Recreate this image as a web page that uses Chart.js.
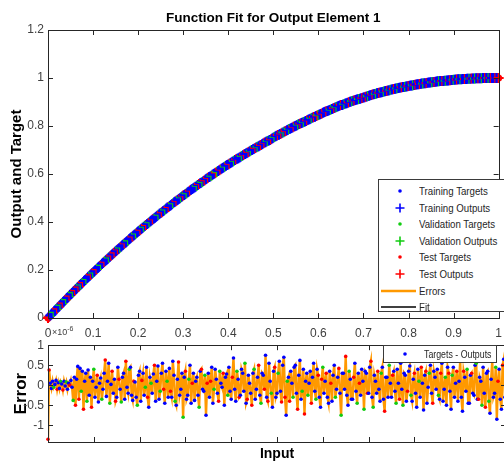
<!DOCTYPE html>
<html>
<head>
<meta charset="utf-8">
<script src="https://cdn.jsdelivr.net/npm/chart.js@4.4.1/dist/chart.umd.min.js"></script>
<style>
  html, body { margin: 0; padding: 0; background: #fff; }
  #wrap { position: relative; width: 504px; height: 464px; overflow: hidden;
          font-family: "Liberation Sans", Arial, sans-serif; color: #262626; }
  canvas { position: absolute; left: 0; }
  #fitChart { top: 0; }
  #errChart { top: 334px; }
  .legend { position: absolute; background: #fff; border: 1px solid #3a3a3a; font-size: 11px; }
  .legend .row { position: absolute; left: 0; height: 16px; line-height: 16px; white-space: nowrap; }
  .legend .row svg { position: absolute; top: 0; left: 0; }
  .legend .row span { position: absolute; top: 0; transform: scaleX(0.88); transform-origin: 0 50%; }
  #errLegend .row span { transform: scaleX(0.8); }
  #expo { position: absolute; left: 52px; top: 325px; font-size: 9px; color: #404040; }
  #expo sup { font-size: 7px; }
</style>
</head>
<body>
<div id="wrap">
  <canvas id="fitChart" width="510" height="346"></canvas>
  <canvas id="errChart" width="510" height="130"></canvas>
  <div id="expo">&times;10<sup>-6</sup></div>
  <div id="fitLegend" class="legend" style="left:378px; top:179px; width:140px; height:131px;"></div>
  <div id="errLegend" class="legend" style="left:383px; top:345px; width:112px; height:16px;"></div>
</div>
<script>
// sample inputs (same for both panels), one row per 0.05
const inputs = [
  0, 0.0025, 0.005, 0.0075, 0.01, 0.0125, 0.015, 0.0175, 0.02, 0.0225, 0.025, 0.0275, 0.03, 0.0325, 0.035, 0.0375, 0.04, 0.0425, 0.045, 0.0475,
  0.05, 0.0525, 0.055, 0.0575, 0.06, 0.0625, 0.065, 0.0675, 0.07, 0.0725, 0.075, 0.0775, 0.08, 0.0825, 0.085, 0.0875, 0.09, 0.0925, 0.095, 0.0975,
  0.1, 0.1025, 0.105, 0.1075, 0.11, 0.1125, 0.115, 0.1175, 0.12, 0.1225, 0.125, 0.1275, 0.13, 0.1325, 0.135, 0.1375, 0.14, 0.1425, 0.145, 0.1475,
  0.15, 0.1525, 0.155, 0.1575, 0.16, 0.1625, 0.165, 0.1675, 0.17, 0.1725, 0.175, 0.1775, 0.18, 0.1825, 0.185, 0.1875, 0.19, 0.1925, 0.195, 0.1975,
  0.2, 0.2025, 0.205, 0.2075, 0.21, 0.2125, 0.215, 0.2175, 0.22, 0.2225, 0.225, 0.2275, 0.23, 0.2325, 0.235, 0.2375, 0.24, 0.2425, 0.245, 0.2475,
  0.25, 0.2525, 0.255, 0.2575, 0.26, 0.2625, 0.265, 0.2675, 0.27, 0.2725, 0.275, 0.2775, 0.28, 0.2825, 0.285, 0.2875, 0.29, 0.2925, 0.295, 0.2975,
  0.3, 0.3025, 0.305, 0.3075, 0.31, 0.3125, 0.315, 0.3175, 0.32, 0.3225, 0.325, 0.3275, 0.33, 0.3325, 0.335, 0.3375, 0.34, 0.3425, 0.345, 0.3475,
  0.35, 0.3525, 0.355, 0.3575, 0.36, 0.3625, 0.365, 0.3675, 0.37, 0.3725, 0.375, 0.3775, 0.38, 0.3825, 0.385, 0.3875, 0.39, 0.3925, 0.395, 0.3975,
  0.4, 0.4025, 0.405, 0.4075, 0.41, 0.4125, 0.415, 0.4175, 0.42, 0.4225, 0.425, 0.4275, 0.43, 0.4325, 0.435, 0.4375, 0.44, 0.4425, 0.445, 0.4475,
  0.45, 0.4525, 0.455, 0.4575, 0.46, 0.4625, 0.465, 0.4675, 0.47, 0.4725, 0.475, 0.4775, 0.48, 0.4825, 0.485, 0.4875, 0.49, 0.4925, 0.495, 0.4975,
  0.5, 0.5025, 0.505, 0.5075, 0.51, 0.5125, 0.515, 0.5175, 0.52, 0.5225, 0.525, 0.5275, 0.53, 0.5325, 0.535, 0.5375, 0.54, 0.5425, 0.545, 0.5475,
  0.55, 0.5525, 0.555, 0.5575, 0.56, 0.5625, 0.565, 0.5675, 0.57, 0.5725, 0.575, 0.5775, 0.58, 0.5825, 0.585, 0.5875, 0.59, 0.5925, 0.595, 0.5975,
  0.6, 0.6025, 0.605, 0.6075, 0.61, 0.6125, 0.615, 0.6175, 0.62, 0.6225, 0.625, 0.6275, 0.63, 0.6325, 0.635, 0.6375, 0.64, 0.6425, 0.645, 0.6475,
  0.65, 0.6525, 0.655, 0.6575, 0.66, 0.6625, 0.665, 0.6675, 0.67, 0.6725, 0.675, 0.6775, 0.68, 0.6825, 0.685, 0.6875, 0.69, 0.6925, 0.695, 0.6975,
  0.7, 0.7025, 0.705, 0.7075, 0.71, 0.7125, 0.715, 0.7175, 0.72, 0.7225, 0.725, 0.7275, 0.73, 0.7325, 0.735, 0.7375, 0.74, 0.7425, 0.745, 0.7475,
  0.75, 0.7525, 0.755, 0.7575, 0.76, 0.7625, 0.765, 0.7675, 0.77, 0.7725, 0.775, 0.7775, 0.78, 0.7825, 0.785, 0.7875, 0.79, 0.7925, 0.795, 0.7975,
  0.8, 0.8025, 0.805, 0.8075, 0.81, 0.8125, 0.815, 0.8175, 0.82, 0.8225, 0.825, 0.8275, 0.83, 0.8325, 0.835, 0.8375, 0.84, 0.8425, 0.845, 0.8475,
  0.85, 0.8525, 0.855, 0.8575, 0.86, 0.8625, 0.865, 0.8675, 0.87, 0.8725, 0.875, 0.8775, 0.88, 0.8825, 0.885, 0.8875, 0.89, 0.8925, 0.895, 0.8975,
  0.9, 0.9025, 0.905, 0.9075, 0.91, 0.9125, 0.915, 0.9175, 0.92, 0.9225, 0.925, 0.9275, 0.93, 0.9325, 0.935, 0.9375, 0.94, 0.9425, 0.945, 0.9475,
  0.95, 0.9525, 0.955, 0.9575, 0.96, 0.9625, 0.965, 0.9675, 0.97, 0.9725, 0.975, 0.9775, 0.98, 0.9825, 0.985, 0.9875, 0.99, 0.9925, 0.995, 0.9975,
  1
];

// targets
const targets = [
  0, 0.005, 0.010, 0.015, 0.020, 0.025, 0.030, 0.035, 0.040, 0.045, 0.049, 0.054, 0.059, 0.064, 0.069, 0.074, 0.078, 0.083, 0.088, 0.093,
  0.098, 0.102, 0.107, 0.112, 0.116, 0.121, 0.126, 0.130, 0.135, 0.140, 0.144, 0.149, 0.154, 0.158, 0.163, 0.167, 0.172, 0.176, 0.181, 0.186,
  0.190, 0.194, 0.199, 0.203, 0.208, 0.212, 0.217, 0.221, 0.226, 0.230, 0.234, 0.239, 0.243, 0.247, 0.252, 0.256, 0.260, 0.265, 0.269, 0.273,
  0.278, 0.282, 0.286, 0.290, 0.294, 0.298, 0.303, 0.307, 0.311, 0.315, 0.319, 0.323, 0.328, 0.332, 0.336, 0.340, 0.344, 0.348, 0.352, 0.356,
  0.360, 0.364, 0.368, 0.372, 0.376, 0.380, 0.384, 0.388, 0.392, 0.395, 0.399, 0.403, 0.407, 0.411, 0.415, 0.418, 0.422, 0.426, 0.430, 0.434,
  0.438, 0.441, 0.445, 0.448, 0.452, 0.456, 0.460, 0.463, 0.467, 0.470, 0.474, 0.478, 0.482, 0.485, 0.489, 0.492, 0.496, 0.499, 0.503, 0.506,
  0.510, 0.513, 0.517, 0.520, 0.524, 0.527, 0.531, 0.534, 0.538, 0.541, 0.544, 0.547, 0.551, 0.554, 0.558, 0.561, 0.564, 0.567, 0.571, 0.574,
  0.578, 0.581, 0.584, 0.587, 0.590, 0.593, 0.597, 0.600, 0.603, 0.606, 0.609, 0.612, 0.616, 0.619, 0.622, 0.625, 0.628, 0.631, 0.634, 0.637,
  0.640, 0.643, 0.646, 0.649, 0.652, 0.655, 0.658, 0.661, 0.664, 0.666, 0.669, 0.672, 0.675, 0.678, 0.681, 0.683, 0.686, 0.689, 0.692, 0.695,
  0.698, 0.700, 0.703, 0.705, 0.708, 0.711, 0.714, 0.716, 0.719, 0.721, 0.724, 0.727, 0.730, 0.732, 0.735, 0.737, 0.740, 0.742, 0.745, 0.748,
  0.751, 0.754, 0.757, 0.759, 0.762, 0.764, 0.767, 0.769, 0.772, 0.774, 0.777, 0.779, 0.782, 0.784, 0.787, 0.789, 0.792, 0.794, 0.797, 0.799,
  0.801, 0.803, 0.806, 0.808, 0.810, 0.812, 0.815, 0.817, 0.819, 0.821, 0.824, 0.826, 0.828, 0.830, 0.833, 0.835, 0.837, 0.839, 0.842, 0.844,
  0.846, 0.848, 0.850, 0.852, 0.855, 0.857, 0.859, 0.861, 0.863, 0.865, 0.867, 0.869, 0.871, 0.873, 0.875, 0.877, 0.879, 0.881, 0.883, 0.885,
  0.887, 0.888, 0.890, 0.892, 0.894, 0.895, 0.897, 0.899, 0.901, 0.902, 0.904, 0.905, 0.907, 0.908, 0.910, 0.911, 0.913, 0.914, 0.916, 0.917,
  0.919, 0.920, 0.922, 0.923, 0.925, 0.926, 0.928, 0.929, 0.931, 0.932, 0.933, 0.934, 0.936, 0.937, 0.939, 0.940, 0.941, 0.942, 0.944, 0.945,
  0.946, 0.947, 0.948, 0.949, 0.951, 0.952, 0.953, 0.954, 0.955, 0.956, 0.957, 0.958, 0.959, 0.960, 0.961, 0.962, 0.963, 0.964, 0.965, 0.966,
  0.967, 0.968, 0.969, 0.969, 0.970, 0.971, 0.972, 0.973, 0.974, 0.974, 0.975, 0.976, 0.977, 0.977, 0.978, 0.978, 0.979, 0.980, 0.981, 0.981,
  0.982, 0.982, 0.983, 0.983, 0.984, 0.985, 0.986, 0.986, 0.987, 0.987, 0.988, 0.988, 0.989, 0.989, 0.990, 0.990, 0.991, 0.991, 0.992, 0.992,
  0.993, 0.993, 0.994, 0.994, 0.995, 0.995, 0.995, 0.995, 0.996, 0.996, 0.996, 0.996, 0.997, 0.997, 0.997, 0.997, 0.998, 0.998, 0.998, 0.998,
  0.999, 0.999, 0.999, 0.999, 0.999, 0.999, 1.000, 1.000, 1.000, 1.000, 1.000, 1.000, 1.000, 1.000, 1.000, 1.000, 1.000, 1.000, 1.000, 1.000,
  1.000
];

// targets - outputs, in units of 1e-6 (lower panel)
const errors = [
  -1.35, 0.38, 0.05, -0.08, 0.1, -0.05, 0.02, 0.12, -0.1, 0.06, -0.08, 0.09, 0.03, -0.12, 0.1, -0.02, 0.08, -0.1, 0.05, 0.0,
  0.12, -0.05, -0.38, 0.2, -0.5, 0.15, 0.47, -0.35, 0.42, -0.15, 0.35, -0.6, 0.1, 0.3, -0.4, 0.38, -0.25, 0.2, -0.55, 0.1,
  0.4, -0.3, -0.05, 0.25, -0.42, 0.05, 0.18, -0.35, -0.1, 0.3, 0.63, -0.28, 0.1, 0.55, -0.45, 0.02, 0.35, -0.2, 0.15, -0.4,
  -0.3, 0.45, 0.15, -0.1, -0.42, 0.2, 0.3, -0.35, 0.6, -0.05, -0.2, 0.4, 0.45, -0.25, -0.38, 0.1, 0.08, -0.3, -0.5, 0.25,
  0.35, -0.4, 0.12, 0.3, -0.25, -0.05, 0.45, -0.3, -0.55, 0.2, 0.05, -0.2, 0.28, 0.5, -0.4, 0.1, 0.48, -0.35, -0.15, 0.3,
  0.55, -0.1, -0.45, 0.35, 0.1, -0.3, 0.42, -0.15, -0.3, 0.6, 0.25, -0.4, -0.5, 0.15, 0.58, -0.25, -0.1, 0.3, -0.8, 0.2,
  0.35, -0.35, -0.25, 0.15, 0.5, -0.45, 0.05, 0.3, -0.38, 0.1, 0.2, -0.25, -0.55, 0.35, 0.4, -0.1, -0.15, 0.25, -0.75, 0.05,
  0.3, -0.3, 0.1, 0.45, -0.45, -0.1, 0.4, 0.15, -0.2, -0.4, 0.35, 0.05, -0.05, 0.3, -0.5, 0.2, 0.28, -0.25, 0.45, -0.15,
  -0.35, 0.2, 0.68, -0.1, -0.4, 0.35, 0.15, -0.3, -0.25, 0.4, 0.3, -0.15, 0.55, -0.45, -0.35, 0.25, 0.05, -0.2, -0.5, 0.3,
  0.4, -0.35, -0.1, 0.2, 0.5, -0.25, -0.45, 0.3, 0.25, -0.1, 0.75, -0.3, -0.4, 0.55, 0.1, -0.2, -0.55, 0.35, 0.45, -0.3,
  -0.2, 0.3, 0.6, -0.15, -0.42, 0.5, 0.7, -0.3, -0.75, 0.1, 0.2, -0.4, 0.35, 0.05, -0.3, 0.45, 0.5, -0.2, -0.6, 0.25,
  0.62, -0.35, -0.15, 0.4, -0.72, 0.1, 0.3, -0.25, 0.05, 0.35, -0.45, 0.2, 0.55, -0.15, -0.35, 0.4, 0.25, -0.3, -0.55, 0.15,
  0.45, -0.2, 0.1, 0.3, -0.3, -0.45, 0.35, 0.05, -0.4, 0.25, 0.5, -0.3, -0.1, 0.2, 0.42, -0.2, -0.75, 0.3, 0.3, -0.1,
  0.72, -0.25, -0.5, 0.35, 0.15, -0.35, -0.35, 0.2, 0.55, -0.15, -0.45, 0.3, 0.05, -0.25, 0.4, 0.1, -0.6, 0.35, 0.3, -0.2,
  -0.2, 0.45, 0.6, -0.3, -0.55, 0.25, 0.1, -0.2, 0.35, -0.1, -0.4, 0.3, 0.45, -0.35, -0.65, 0.2, 0.2, -0.3, 0.5, 0.05,
  -0.3, 0.25, 0.35, -0.15, -0.45, 0.4, 0.05, -0.35, 0.55, -0.1, -0.5, 0.3, 0.25, -0.4, -0.15, 0.35, 0.48, -0.25, -0.4, 0.15,
  0.3, -0.2, -0.55, 0.4, 0.1, -0.3, 0.45, 0.05, -0.62, 0.25, 0.35, -0.45, -0.05, 0.3, 0.5, -0.2, -0.45, 0.35, 0.2, -0.1,
  0.4, -0.25, -0.35, 0.3, 0.55, -0.4, -0.1, 0.2, -0.5, 0.45, 0.3, -0.15, -0.6, 0.25, 0.45, -0.3, 0.05, 0.35, -0.4, 0.1,
  0.6, -0.3, -0.65, 0.35, 0.2, -0.15, 0.4, -0.45, -0.45, 0.25, 0.3, -0.2, -0.25, 0.5, 0.55, -0.35, -0.35, 0.2, 0.1, -0.5,
  0.45, -0.2, -0.55, 0.3, 0.35, -0.4, -0.7, 0.15, 0.6, -0.3, -0.2, 0.45, -0.85, 0.1, 0.4, -0.35, -0.6, 0.5, 0.65, -0.3,
  -0.45
];

// which subset each sample belongs to: b = training, g = validation, r = test
const subsets = [
  'rrbbbgbbrb', 'bgbrbbgbbr', 'bbgbrbbrbg', 'brbbgbbbrb', 'gbbrbbbgbb', 'rbbbgbrbbr',
  'bbrbgbbbrb', 'bgbbbrbbgb', 'bbrbbgbrbb', 'gbbrbbbbgb', 'brbbgbbrbb', 'bgbbrbbbgb',
  'rbbgbbrbbb', 'bbgbrbbgbr', 'bbrbbgbbbr', 'gbbrbbbgbb', 'brbbbgbrbb', 'bbgbrbbbrb',
  'gbbbrbgbbr', 'bbrbbgbbrb', 'bgbbrbbrbg', 'brbbgbbbrb', 'bbgbrbbgbb', 'rbbbgbrbbr',
  'gbbrbbbrbb', 'bgbbrbgbbb', 'rbbgbbbrbb', 'gbrbbbgbbr', 'bbrbgbbbrb', 'bgbbrbbbgb',
  'brbbgbbrbb', 'gbbbrbbgbb', 'rbbbgbrbbb', 'rbbgbbrbbb', 'bgbrbbbgbb', 'rbbgbbbrbb',
  'gbbrbbgbbb', 'rbbbgbrbbg', 'bbrbbgbbrb', 'bgbrbbbrbb', 'r'
].join('').split('');

const subsetColorOf = { b: '#0000ff', g: '#11cc11', r: '#ff0000' };
const errorColor = '#ff9900';

const fitLegendLabels = ['Training Targets', 'Training Outputs', 'Validation Targets',
  'Validation Outputs', 'Test Targets', 'Test Outputs', 'Errors', 'Fit'];
const errLegendLabel = 'Targets - Outputs';

Chart.defaults.font.family = '"Liberation Sans", Arial, sans-serif';
Chart.defaults.color = '#404040';
Chart.defaults.animation = false;

// tick labels without trailing zeros (1, 0.5, -1 ...)
const plainTick = v => String(Number(Number(v).toFixed(2)));

// MATLAB-like box with inward ticks
const axesBox = {
  id: 'axesBox',
  afterDatasetsDraw(chart) {
    const { ctx, chartArea: a, scales } = chart;
    ctx.save();
    ctx.strokeStyle = '#262626';
    ctx.lineWidth = 1;
    ctx.beginPath();
    scales.x.ticks.forEach(t => {
      const px = Math.round(scales.x.getPixelForValue(t.value)) + 0.5;
      ctx.moveTo(px, a.bottom); ctx.lineTo(px, a.bottom - 5);
      ctx.moveTo(px, a.top); ctx.lineTo(px, a.top + 5);
    });
    scales.y.ticks.forEach(t => {
      const py = Math.round(scales.y.getPixelForValue(t.value)) + 0.5;
      ctx.moveTo(a.left, py); ctx.lineTo(a.left + 5, py);
      ctx.moveTo(a.right, py); ctx.lineTo(a.right - 5, py);
    });
    ctx.stroke();
    ctx.strokeRect(Math.round(a.left) + 0.5, Math.round(a.top) + 0.5,
      Math.round(a.right - a.left), Math.round(a.bottom - a.top));
    ctx.restore();
  }
};

// colours per sample, so points are painted in input order
const pointColors = subsets.map(c => subsetColorOf[c]);

// upper panel: targets (dots), outputs (plus), fit line underneath
const fitDatasets = [
  {
    label: 'Outputs',
    data: inputs.map((x, i) => ({ x: x, y: targets[i] - errors[i] * 1e-6 })),
    pointStyle: 'cross', pointRadius: 5, pointBorderWidth: 2,
    pointBorderColor: pointColors, pointBackgroundColor: pointColors,
    showLine: false, clip: false, order: 1
  },
  {
    label: 'Targets',
    data: inputs.map((x, i) => ({ x: x, y: targets[i] })),
    pointStyle: 'circle', pointRadius: 3.5, pointBorderWidth: 0,
    pointBackgroundColor: pointColors, pointBorderColor: pointColors,
    showLine: false, clip: false, order: 2
  },
  {
    label: 'Fit',
    data: inputs.map((x, i) => ({ x: x, y: targets[i] - errors[i] * 1e-6 })),
    borderColor: '#000000', borderWidth: 1.5, pointRadius: 0,
    showLine: true, order: 3
  }
];

new Chart(document.getElementById('fitChart'), {
  type: 'scatter',
  data: { datasets: fitDatasets },
  options: {
    responsive: false,
    layout: { padding: { left: 0, right: 4, top: 0, bottom: 0 } },
    plugins: {
      legend: { display: false },
      tooltip: { enabled: false },
      title: {
        display: true, fullSize: false,
        text: 'Function Fit for Output Element 1',
        color: '#000000',
        font: { size: 13.5, weight: 'bold' },
        padding: { top: 10, bottom: 3.8 }
      }
    },
    scales: {
      x: {
        type: 'linear', min: 0, max: 1,
        ticks: { stepSize: 0.1, padding: 8, font: { size: 12 }, maxRotation: 0, callback: plainTick },
        grid: { display: false, drawTicks: false },
        border: { display: false },
        afterFit: s => { s.height = 28; }
      },
      y: {
        min: 0, max: 1.2,
        ticks: { stepSize: 0.2, padding: 4, font: { size: 12 }, callback: plainTick },
        grid: { display: false, drawTicks: false },
        border: { display: false },
        title: { display: true, text: 'Output and Target', color: '#000000',
                 font: { size: 15, weight: 'bold' }, padding: { top: 8, bottom: 0 } },
        afterFit: s => { s.width = 48; }
      }
    }
  },
  plugins: [axesBox]
});

// lower panel: error dots over the orange error trace
const errDatasets = [
  {
    label: errLegendLabel,
    data: inputs.map((x, i) => ({ x: x, y: errors[i] })),
    pointStyle: 'circle', pointRadius: 1.8, pointBorderWidth: 0,
    pointBackgroundColor: pointColors, showLine: false, clip: false, order: 1
  },
  {
    label: 'Errors',
    data: inputs.map((x, i) => ({ x: x, y: errors[i] })),
    borderColor: errorColor, borderWidth: 2.4, pointRadius: 0,
    showLine: true, order: 2
  }
];

new Chart(document.getElementById('errChart'), {
  type: 'scatter',
  data: { datasets: errDatasets },
  options: {
    responsive: false,
    layout: { padding: { left: 0, right: 4, top: 6, bottom: 0 } },
    plugins: { legend: { display: false }, tooltip: { enabled: false } },
    scales: {
      x: {
        type: 'linear', min: 0, max: 1,
        ticks: { stepSize: 0.1, display: false },
        grid: { display: false, drawTicks: false },
        border: { display: false },
        title: { display: true, text: 'Input', color: '#000000',
                 font: { size: 14, weight: 'bold' }, padding: { top: 0, bottom: 1 } },
        afterFit: s => { s.height = 22; }
      },
      y: {
        min: -1.42, max: 1,
        afterBuildTicks: s => { s.ticks = [-1, -0.5, 0, 0.5, 1].map(v => ({ value: v })); },
        ticks: { padding: 4, font: { size: 12 }, callback: plainTick },
        grid: { display: false, drawTicks: false },
        border: { display: false },
        title: { display: true, text: 'Error', color: '#000000',
                 font: { size: 17, weight: 'bold' }, padding: { top: 11, bottom: 0 } },
        afterFit: s => { s.width = 48; }
      }
    }
  },
  plugins: [axesBox]
});

// legends (HTML)
function markerSvg(kind, color) {
  if (kind === 'dot') {
    return '<svg width="40" height="16"><circle cx="21" cy="8" r="1.8" fill="' + color + '"/></svg>';
  }
  if (kind === 'plus') {
    return '<svg width="40" height="16"><path d="M16.5 8h9M21 3.5v9" stroke="' + color + '" stroke-width="1.6"/></svg>';
  }
  const w = kind === 'errline' ? 2.5 : 1.5;
  return '<svg width="40" height="16"><path d="M2 8h35" stroke="' + color + '" stroke-width="' + w + '"/></svg>';
}
const fitLegendMarkers = [
  ['dot', subsetColorOf.b], ['plus', subsetColorOf.b],
  ['dot', subsetColorOf.g], ['plus', subsetColorOf.g],
  ['dot', subsetColorOf.r], ['plus', subsetColorOf.r],
  ['errline', errorColor], ['line', '#000000']
];
const fitLegend = document.getElementById('fitLegend');
fitLegendLabels.forEach((txt, i) => {
  const row = document.createElement('div');
  row.className = 'row';
  row.style.top = (3 + i * 16.6) + 'px';
  row.innerHTML = markerSvg(fitLegendMarkers[i][0], fitLegendMarkers[i][1]) +
    '<span style="left:40px">' + txt + '</span>';
  fitLegend.appendChild(row);
});
const errLegend = document.getElementById('errLegend');
errLegend.innerHTML = '<div class="row" style="top:0">' + markerSvg('dot', subsetColorOf.b) +
  '<span style="left:40px">' + errLegendLabel + '</span></div>';
</script>
</body>
</html>
